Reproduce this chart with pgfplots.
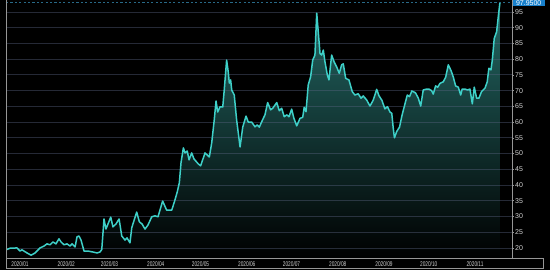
\documentclass[border=0pt]{standalone}
\usepackage{graphicx}
\usepackage{fontspec}
\setmainfont{Liberation Sans}
\usepackage{pgfplots}
\usepackage{pgfplotstable}
\pgfplotsset{compat=1.18}
\definecolor{linec}{RGB}{62,208,200}
\definecolor{fillc}{RGB}{36,106,102}
\definecolor{gridc}{RGB}{90,100,130}
\definecolor{labc}{RGB}{210,210,210}
\definecolor{boxc}{RGB}{24,128,204}
\definecolor{dashc}{RGB}{40,105,135}
\definecolor{framec}{RGB}{150,150,150}
\newcommand\xl[1]{\scalebox{0.7}[1]{#1}}
\pgfplotstableread{
d v
-9.4 19.4
-6.7 19.9
-2.0 20.0
0.0 19.0
1.3 19.4
4.7 18.4
7.4 17.7
10.1 18.4
13.4 20.0
16.1 20.6
18.1 21.3
20.1 21.0
22.1 21.9
24.1 21.3
26.1 22.9
27.5 21.9
29.5 21.0
31.5 21.3
33.5 20.6
34.9 21.3
36.9 20.3
38.2 23.5
39.5 23.8
40.9 22.5
42.9 19.0
45.6 19.0
48.9 18.7
51.6 18.4
53.6 18.7
54.8 19.5
56.3 29.2
57.6 26.0
60.8 29.8
62.3 26.7
64.3 27.6
66.4 29.2
68.2 23.8
70.4 22.5
71.7 23.2
73.7 21.6
74.9 26.4
78.2 31.4
80.0 28.3
81.8 27.6
83.8 26.0
85.8 27.3
88.3 29.9
90.5 30.2
92.5 29.9
95.6 34.9
98.3 32.0
101.7 32.0
103.9 35.3
105.4 37.8
106.8 40.7
107.9 47.0
109.5 51.8
110.6 50.2
112.1 50.8
113.3 48.0
115.1 50.2
116.6 48.3
119.5 46.7
121.1 46.1
124.0 50.2
126.9 48.9
128.5 53.4
130.2 60.7
131.4 66.7
132.5 63.2
134.0 64.8
135.9 64.8
136.9 70.2
138.5 79.7
139.6 75.9
140.3 72.4
141.2 73.4
141.9 70.2
143.6 68.6
145.2 60.7
147.5 52.1
149.3 58.4
151.5 61.9
153.0 60.0
155.3 60.0
157.5 58.5
159.0 59.1
160.4 58.4
162.0 60.1
164.2 62.3
166.0 66.2
168.0 63.9
169.4 64.4
172.1 66.2
173.8 63.6
175.4 64.4
177.1 61.7
178.8 62.3
180.3 61.7
182.1 64.1
183.6 61.2
185.5 58.8
187.7 61.2
189.5 61.5
190.5 64.7
191.7 63.3
193.2 71.8
194.8 74.4
196.2 79.7
197.7 81.3
198.9 94.6
200.2 87.1
201.1 81.8
202.2 81.3
203.3 82.9
204.4 79.2
206.0 75.0
207.1 73.4
208.9 81.3
210.5 79.2
212.3 77.5
214.0 75.5
215.6 78.2
216.7 78.5
218.3 73.9
220.5 73.4
222.7 69.7
224.5 68.6
226.7 69.0
228.6 67.6
230.1 68.3
232.4 67.0
234.6 65.1
236.8 67.0
239.1 70.4
240.6 68.4
242.6 66.9
244.6 64.2
246.3 64.9
248.0 63.2
249.2 62.8
250.2 58.0
251.0 55.0
252.5 57.0
254.4 58.4
256.0 62.0
258.0 65.7
259.6 68.6
261.1 68.1
262.7 69.9
265.1 69.3
267.0 67.6
268.6 65.1
270.3 70.2
272.6 70.5
274.1 70.5
275.9 70.0
277.0 68.9
278.6 71.5
280.0 71.1
281.5 72.3
283.7 72.8
285.3 74.2
287.1 78.2
288.9 76.4
290.4 74.4
292.0 71.5
293.8 71.1
295.4 68.6
296.4 70.5
298.3 70.5
300.1 70.2
301.6 70.5
303.2 65.8
304.5 71.1
306.1 67.6
307.6 67.6
309.4 69.7
311.7 70.8
313.2 72.8
314.3 77.1
315.7 76.6
316.6 79.7
317.9 86.6
319.5 88.7
320.6 93.5
321.7 97.95
}\prices
\begin{document}
\begin{tikzpicture}
\fill[black] (0pt,0pt) rectangle (550pt,270pt);
\begin{axis}[
  at={(6pt,12pt)}, anchor=south west,
  scale only axis, width=506pt, height=258pt,
  xmin=-9.4, xmax=329.8, ymin=16.8, ymax=98.8,
  axis x line*=bottom, axis y line*=right,
  axis line style={draw=framec, line width=0.6pt},
  ytick={20,25,...,95},
  xtick={0,31,60,91,121,152,182,213,244,274,305},
  xticklabels={\xl{2020/01},\xl{2020/02},\xl{2020/03},\xl{2020/04},\xl{2020/05},\xl{2020/06},\xl{2020/07},\xl{2020/08},\xl{2020/09},\xl{2020/10},\xl{2020/11}},
  tick align=outside,
  major tick length=2.2pt,
  tick style={draw=framec, line width=0.5pt},
  xtick style={draw=none},
  /pgf/number format/assume math mode=true,
  yticklabel style={font=\fontsize{7}{8}\selectfont, text=labc, inner sep=0.6pt, xshift=0.2pt},
  xticklabel style={font=\fontsize{6.8}{7}\selectfont, text=labc, inner sep=0pt, yshift=-1.6pt},
]
\addplot[draw=none, top color=fillc, bottom color=black] table[x=d,y=v] {\prices} \closedcycle;
\pgfplotsinvokeforeach{20,25,...,95}{
  \draw[gridc, draw opacity=0.42, line width=0.8pt] (axis cs:-9.4,#1) -- (axis cs:329.8,#1);
}
\addplot[color=linec, line width=1.5pt, line join=round] table[x=d,y=v] {\prices};
\draw[dashc, line width=0.6pt, dash pattern=on 2.2pt off 2.2pt] (axis cs:-9.4,97.95) -- (axis cs:329.8,97.95);
\coordinate (lab) at (axis cs:329.8,97.95);
\end{axis}
\draw[framec, line width=0.6pt] (6pt,270pt) -- (6pt,2pt);
\draw[framec, line width=0.6pt] (6pt,12pt) -- (543pt,12pt) -- (543pt,2pt) -- (6pt,2pt);
\node[fill=boxc, text=white, anchor=west, inner xsep=1pt, inner ysep=0.8pt, font=\fontsize{7}{7.5}\selectfont, minimum width=32pt, align=right] at ([xshift=0.5pt]lab) {97.9500};
\pgfresetboundingbox
\useasboundingbox (0pt,0pt) rectangle (550pt,270pt);
\end{tikzpicture}
\end{document}
